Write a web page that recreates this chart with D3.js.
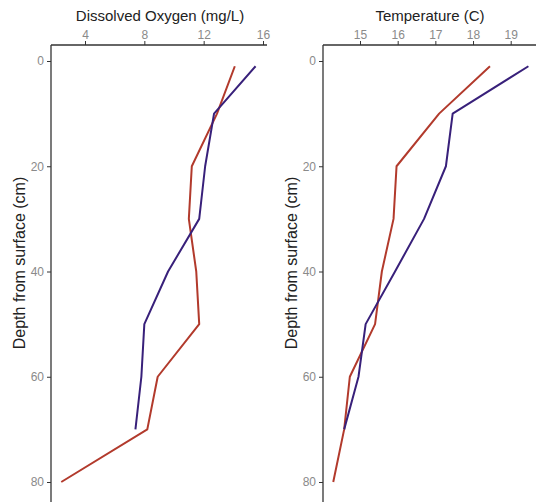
<!DOCTYPE html>
<html>
<head>
<meta charset="utf-8">
<script src="https://cdn.jsdelivr.net/npm/d3@7"></script>
<style>
  body { margin: 0; background: #fff; }
  text { font-family: "Liberation Sans", Arial, sans-serif; }
</style>
</head>
<body>
<div id="chart"></div>
<script>
// depths sampled (cm)
var depths = [1, 10, 20, 30, 40, 50, 60, 70, 80];

// dissolved oxygen (mg/L)
var doRed    = [14.1, 12.9, 11.2, 11.0, 11.5, 11.7, 8.9, 8.2, 2.4];
var doPurple = [15.5, 12.7, 12.1, 11.7, 9.6, 8.0, 7.8, 7.4, null];

// temperature (C)
var tempRed    = [18.45, 17.1, 15.97, 15.89, 15.58, 15.4, 14.73, 14.58, 14.29];
var tempPurple = [19.47, 17.46, 17.28, 16.7, 15.93, 15.15, 14.96, 14.58, null];

var doTicks   = [4, 8, 12, 16];
var tempTicks = [15, 16, 17, 18, 19];
var depthTicks = [0, 20, 40, 60, 80];

var redColor = "#b23a2c";
var purpleColor = "#38207a";

var svgWidth = 536;
var svgHeight = 502;

var svg = d3.select("#chart")
  .append("svg")
  .attr("width", svgWidth)
  .attr("height", svgHeight);

// same depth scale for both panels
var yScale = d3.scaleLinear()
  .domain([0, 80])
  .range([61, 482]);

function toPoints(values) {
  return depths.map(function(d, i) { return { depth: d, v: values[i] }; })
    .filter(function(p) { return p.v != null; });
}

function drawPanel(opt) {
  var g = svg.append("g");
  var x = d3.scaleLinear().domain(opt.domain).range(opt.range);

  // top axis
  var topAxis = d3.axisTop(x).tickValues(opt.ticks).tickSize(4)
    .tickSizeOuter(0).tickFormat(d3.format("d"));
  var gx = g.append("g")
    .attr("transform", "translate(0,45)")
    .call(topAxis);
  gx.select(".domain").remove();
  gx.append("line")
    .attr("x1", opt.left).attr("x2", opt.right)
    .attr("y1", 0).attr("y2", 0)
    .attr("stroke", "#333").attr("stroke-width", 1.3);
  gx.selectAll(".tick line").attr("stroke", "#333");
  gx.selectAll(".tick text")
    .attr("fill", "#8a8a8a")
    .attr("font-size", "12px")
    .attr("y", -6);

  // left axis
  var leftAxis = d3.axisLeft(yScale).tickValues(depthTicks).tickSize(4).tickSizeOuter(0);
  var gy = g.append("g")
    .attr("transform", "translate(" + opt.left + ",0)")
    .call(leftAxis);
  gy.select(".domain").remove();
  gy.append("line")
    .attr("x1", 0).attr("x2", 0)
    .attr("y1", 45).attr("y2", svgHeight + 10)
    .attr("stroke", "#333").attr("stroke-width", 1.3);
  gy.selectAll(".tick line").attr("stroke", "#333");
  gy.selectAll(".tick text")
    .attr("fill", "#8a8a8a")
    .attr("font-size", "12px")
    .attr("x", -7);

  // titles
  g.append("text")
    .attr("x", opt.titleX)
    .attr("y", 21)
    .attr("text-anchor", "middle")
    .attr("font-size", "15px")
    .attr("fill", "#222")
    .text(opt.title);

  g.append("text")
    .attr("transform", "translate(" + (opt.left - 26) + ",263) rotate(-90)")
    .attr("text-anchor", "middle")
    .attr("font-size", "16px")
    .attr("fill", "#222")
    .text("Depth from surface (cm)");

  var line = d3.line()
    .x(function(d) { return x(d.v); })
    .y(function(d) { return yScale(d.depth); });

  opt.series.forEach(function(s) {
    g.append("path")
      .datum(toPoints(s.values))
      .attr("fill", "none")
      .attr("stroke", s.color)
      .attr("stroke-width", 2)
      .attr("stroke-linejoin", "round")
      .attr("d", line);
  });
}

drawPanel({
  domain: [4, 16], range: [85, 263],
  left: 51, right: 267,
  ticks: doTicks,
  title: "Dissolved Oxygen (mg/L)", titleX: 160,
  series: [
    { values: doRed, color: redColor },
    { values: doPurple, color: purpleColor }
  ]
});

drawPanel({
  domain: [15, 19], range: [360, 510.7],
  left: 323, right: svgWidth + 10,
  ticks: tempTicks,
  title: "Temperature (C)", titleX: 430,
  series: [
    { values: tempRed, color: redColor },
    { values: tempPurple, color: purpleColor }
  ]
});
</script>
</body>
</html>
